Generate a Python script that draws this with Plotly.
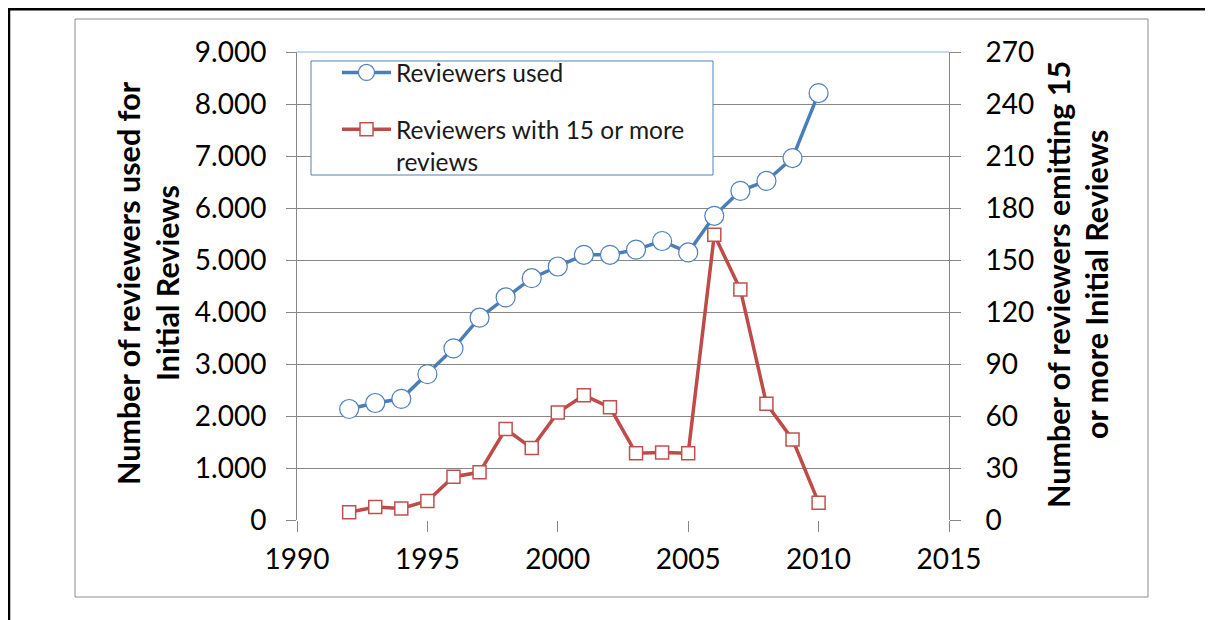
import plotly.graph_objects as go

# data
years = list(range(1992, 2011))
reviewers_used = [2135, 2250, 2330, 2805, 3300, 3890, 4280, 4650, 4875, 5100,
                  5100, 5200, 5365, 5145, 5850, 6330, 6520, 6960, 8210]
reviewers_15plus = [4.5, 7.5, 6.7, 11, 25, 27.5, 52.5, 41.5, 62, 72,
                    65, 38.5, 39, 38.5, 164.5, 133, 67, 46.5, 10]

name_used = "Reviewers used"
name_15 = "Reviewers with 15 or more<br>reviews"
left_title = ["Number of reviewers used for", "Initial Reviews"]
right_title = ["Number of reviewers emitting 15", "or more Initial Reviews"]

FONT = "Lato"
GRID = "#878787"

# the page puts the figure 8px in from the window corner
OFF = 8
W, H = 1213 - OFF, 620 - OFF
# plot area in window pixels
L, R, T, B = 297, 949, 52, 520


def px(x):
    return (x - L) / (R - L)


def py(y):
    return (B - y) / (B - T)


fig = go.Figure()

fig.add_trace(go.Scatter(
    x=years, y=reviewers_used, name=name_used, legendgroup="a",
    mode="lines+markers",
    line=dict(color="#4A7EBB", width=3.5),
    marker=dict(symbol="circle", size=19, color="white",
                line=dict(color="#4F81BD", width=1.2)),
))

fig.add_trace(go.Scatter(
    x=years, y=reviewers_15plus, name=name_15, legendgroup="b",
    mode="lines+markers", yaxis="y2",
    line=dict(color="#BE4B48", width=3.5),
    marker=dict(symbol="square", size=13, color="white",
                line=dict(color="#C0504D", width=1.5)),
))

shapes = [
    # chart area border
    dict(type="rect", xref="paper", yref="paper",
         x0=px(75), x1=px(1148), y0=py(597), y1=py(19),
         line=dict(color="#8C8C8C", width=1), layer="below"),
    # page borders
    dict(type="line", xref="paper", yref="paper",
         x0=px(OFF), x1=px(1220), y0=py(OFF + 1), y1=py(OFF + 1),
         line=dict(color="black", width=3)),
    dict(type="line", xref="paper", yref="paper",
         x0=px(OFF + 1), x1=px(OFF + 1), y0=py(OFF), y1=py(630),
         line=dict(color="black", width=2.5)),
    # blue top edge of plot area
    dict(type="line", xref="paper", yref="paper",
         x0=0, x1=1, y0=1, y1=1,
         line=dict(color="#8EB4E3", width=1)),
    # legend box
    dict(type="rect", xref="paper", yref="paper",
         x0=px(311), x1=px(713), y0=py(175), y1=py(61),
         line=dict(color="#4F81BD", width=1), fillcolor="white", layer="above"),
]

annotations = []
for txt, xc in zip(left_title, [128, 167]):
    annotations.append(dict(text=f"<b>{txt}</b>", xref="paper", yref="paper",
                            x=px(xc), y=py(283), xanchor="center", yanchor="middle",
                            textangle=-90, showarrow=False,
                            font=dict(family=FONT, size=30.5, color="black")))
for txt, xc in zip(right_title, [1058, 1096]):
    annotations.append(dict(text=f"<b>{txt}</b>", xref="paper", yref="paper",
                            x=px(xc), y=py(285), xanchor="center", yanchor="middle",
                            textangle=-90, showarrow=False,
                            font=dict(family=FONT, size=30.5, color="black")))

fig.update_layout(
    width=W, height=H,
    margin=dict(l=L - OFF, r=1213 - R, t=T - OFF, b=620 - B),
    paper_bgcolor="white", plot_bgcolor="white",
    separators=",.",
    font=dict(family=FONT, size=28, color="black"),
    showlegend=True,
    legend=dict(x=px(337), y=py(50), xanchor="left", yanchor="top",
                bgcolor="rgba(0,0,0,0)", borderwidth=0,
                font=dict(family=FONT, size=24.5, color="#1a1a1a"),
                itemwidth=49, valign="top", tracegroupgap=22),
    xaxis=dict(range=[1990, 2015], dtick=5, tick0=1990,
               showgrid=False, zeroline=False, showline=False,
               ticks="outside", ticklen=11, tickcolor=GRID, tickwidth=1,
               ticklabelstandoff=3, tickfont=dict(size=28)),
    yaxis=dict(range=[0, 9000], dtick=1000, tickformat=",d",
               showgrid=True, gridcolor=GRID, gridwidth=1, zeroline=False,
               showline=True, linecolor=GRID, linewidth=1,
               ticks="outside", ticklen=10, tickcolor=GRID,
               ticklabelstandoff=14, tickfont=dict(size=28)),
    yaxis2=dict(range=[0, 270], dtick=30, overlaying="y", side="right",
                showgrid=False, zeroline=False,
                showline=True, linecolor=GRID, linewidth=1,
                ticks="outside", ticklen=11, tickcolor=GRID,
                ticklabelstandoff=19, tickfont=dict(size=28)),
    shapes=shapes,
    annotations=annotations,
)

fig.write_html("out.html")
